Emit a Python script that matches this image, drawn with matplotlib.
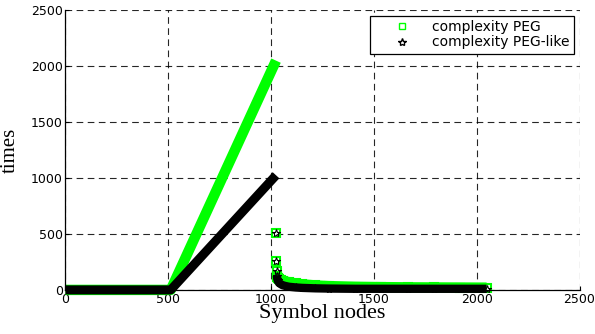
import matplotlib
matplotlib.use('Agg')
import matplotlib.pyplot as plt
from matplotlib.lines import Line2D

# symbol nodes on the flat part and the ramp
ramp_nodes = [0, 64, 128, 192, 256, 320, 384, 448, 512, 576, 640, 704, 768, 832, 896, 960, 1024]
peg_ramp = [0, 0, 0, 0, 0, 0, 0, 0, 0, 256, 512, 768, 1024, 1280, 1536, 1792, 2048]
like_ramp = [0, 0, 0, 0, 0, 0, 0, 0, 0, 128, 256, 384, 512, 640, 768, 896, 1024]

# after node 1024 the cost drops off
tail_nodes = [1025, 1026, 1027, 1028, 1030, 1032, 1036, 1040, 1048, 1056, 1072, 1088, 1120, 1152,
              1216, 1280, 1408, 1536, 1664, 1792, 1920, 2048]
peg_tail = [512, 256, 170, 128, 118, 110, 104, 98, 90, 84, 75, 68, 58, 50, 40, 34, 28, 25, 23, 22, 21, 20]
like_tail = [512, 256, 170, 128, 100, 85, 70, 60, 50, 42, 34, 28, 22, 18, 14, 12, 10, 10, 10, 10, 10, 10]

green = (0, 1, 0)

plt.rcParams['font.family'] = ['DejaVu Sans']
fig = plt.figure(figsize=(5.95, 3.34), dpi=100)
ax = fig.add_axes([0.110, 0.132, 0.864, 0.838])

ms = 5
# green PEG
ax.plot(ramp_nodes, peg_ramp, color=green, lw=7.5, solid_capstyle='butt', clip_on=False, zorder=2)
ax.plot(tail_nodes[3:], peg_tail[3:], color=green, lw=7.5, solid_capstyle='butt', clip_on=False, zorder=2)
ax.plot(tail_nodes, peg_tail, 's', color=green, mfc='none', ms=ms + 1, mew=1.5, clip_on=False, zorder=2)
# black PEG-like
ax.plot(ramp_nodes, like_ramp, color='black', lw=6.5, solid_capstyle='butt', clip_on=False, zorder=3)
ax.plot(tail_nodes[3:], like_tail[3:], color='black', lw=6, solid_capstyle='butt', clip_on=False, zorder=3)
ax.plot(tail_nodes, like_tail, '*', color='black', mfc='none', ms=ms + 1, mew=0.8, clip_on=False, zorder=3)

ax.set_xlim(0, 2500)
ax.set_ylim(0, 2500)
ax.set_xticks([0, 500, 1000, 1500, 2000, 2500])
ax.set_yticks([0, 500, 1000, 1500, 2000, 2500])
ax.tick_params(direction='in', length=3, labelsize=9, pad=2)
ax.grid(True, color='black', linestyle=(0, (6, 4)), linewidth=0.8, alpha=0.85)
ax.set_axisbelow(True)
ax.spines['top'].set_visible(False)
ax.spines['right'].set_visible(False)
ax.spines['left'].set_linewidth(0.9)
ax.spines['bottom'].set_linewidth(0.9)

ax.set_xlabel('Symbol nodes', family='Liberation Serif', fontsize=16, labelpad=-1)
ax.set_ylabel('times', family='Liberation Serif', fontsize=15, labelpad=8)

handles = [Line2D([], [], ls='none', marker='s', color=green, mfc='none', ms=ms),
           Line2D([], [], ls='none', marker='*', color='black', mfc='none', ms=ms + 1)]
leg = ax.legend(handles, ['complexity PEG', 'complexity PEG-like'], loc='upper right',
                bbox_to_anchor=(0.989, 0.979), borderaxespad=0, fontsize=10, fancybox=False,
                framealpha=1, edgecolor='black', handlelength=4, borderpad=0.3,
                labelspacing=0.1, handletextpad=0.2)
leg.get_frame().set_linewidth(0.9)

fig.savefig('out.png', dpi=100)
